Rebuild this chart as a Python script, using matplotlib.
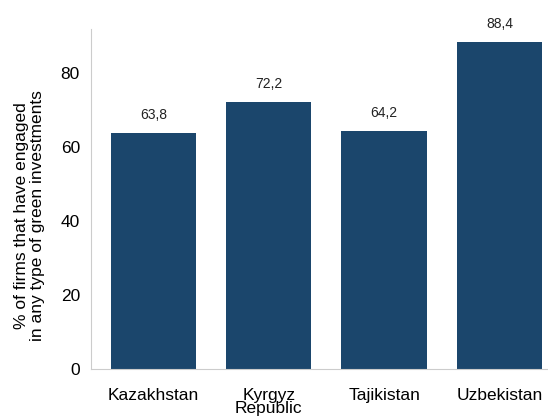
import matplotlib.pyplot as plt

plt.rcParams['font.family'] = ['Liberation Sans', 'DejaVu Sans']

# Data
ulkeler = ['Kazakhstan', 'Kyrgyz\nRepublic', 'Tajikistan', 'Uzbekistan']
degerler = [63.8, 72.2, 64.2, 88.4]
etiketler = ['63,8', '72,2', '64,2', '88,4']

renk = '#1b466c'

fig = plt.figure(figsize=(5.48, 4.19), dpi=100)
ax = fig.add_axes([91 / 548, 50 / 419, 457 / 548, 340 / 419])

x = list(range(len(ulkeler)))
bars = ax.bar(x, degerler, width=0.74, color=renk)

for b, e in zip(bars, etiketler):
    ax.text(b.get_x() + b.get_width() / 2, b.get_height() + 3, e,
            ha='center', va='bottom', fontsize=10, color='#222222')

ax.set_xticks(x)
ax.set_xticklabels(ulkeler, fontsize=12.5, linespacing=0.8)
ax.set_ylim(0, 91.9)
ax.set_xlim(-0.54, 3.42)
ax.set_yticks([0, 20, 40, 60, 80])
ax.tick_params(axis='y', labelsize=12.5, length=0, pad=8)
ax.tick_params(axis='x', length=0, pad=14)
ax.set_ylabel('% of firms that have engaged\nin any type of green investments',
              fontsize=12.5, linespacing=1.05, va='center')
ax.yaxis.set_label_coords(-0.135, 0.45)

for s in ['top', 'right']:
    ax.spines[s].set_visible(False)
for s in ['left', 'bottom']:
    ax.spines[s].set_color('#cccccc')

fig.savefig('out.png', dpi=100)
